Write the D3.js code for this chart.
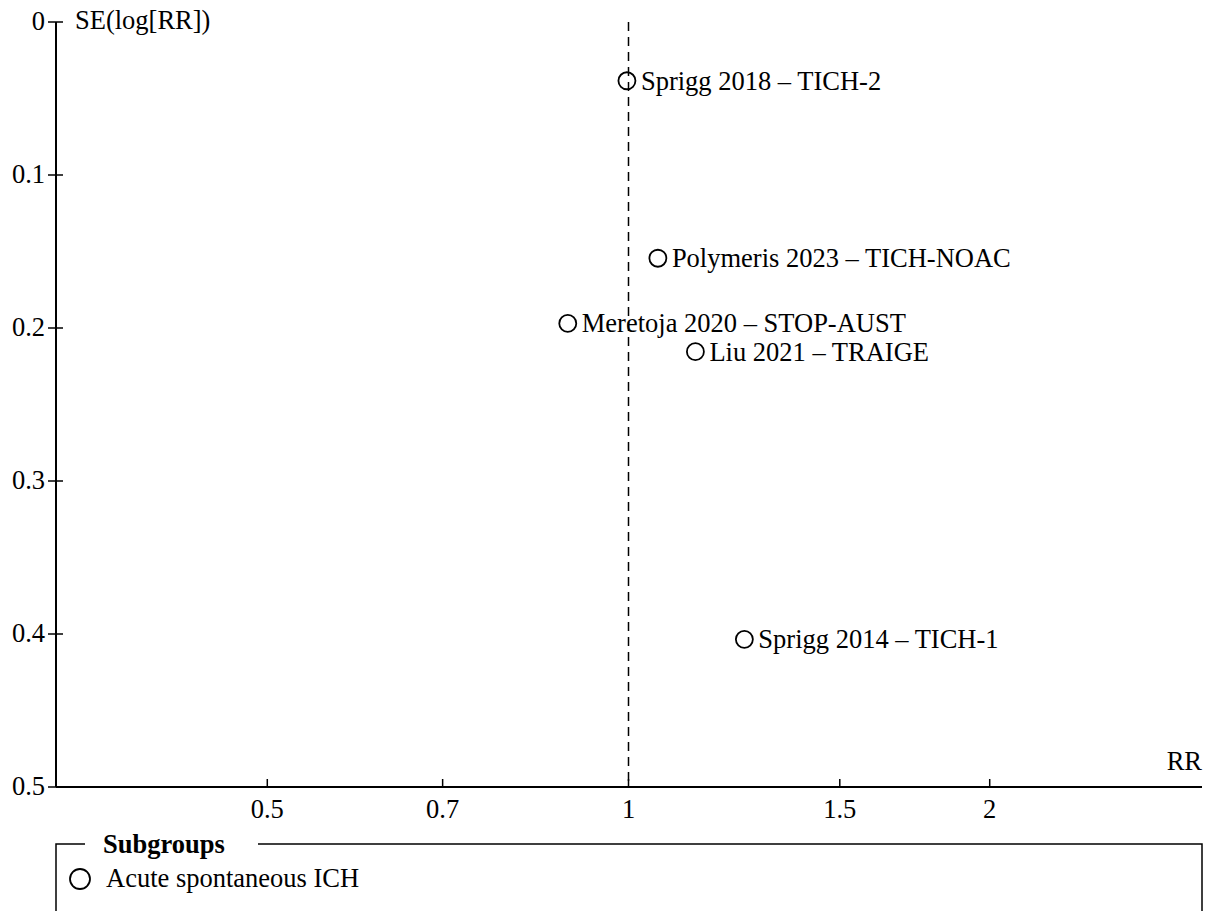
<!DOCTYPE html>
<html>
<head>
<meta charset="utf-8">
<script src="https://cdn.jsdelivr.net/npm/d3@7"></script>
<style>
  body { margin: 0; background: #fff; }
  svg text { font-family: "Liberation Serif", "Times New Roman", serif; fill: #000; }
</style>
</head>
<body>
<div class="funnel"></div>
<script>
const width = 1208, height = 911;

// study data
const studies = ["Sprigg 2018 – TICH-2", "Polymeris 2023 – TICH-NOAC", "Meretoja 2020 – STOP-AUST",
                 "Liu 2021 – TRAIGE", "Sprigg 2014 – TICH-1"];
const rr = [0.997, 1.058, 0.890, 1.137, 1.249];
const se = [0.0384, 0.1544, 0.197, 0.2155, 0.4035];

const xTicks = [0.5, 0.7, 1, 1.5, 2];
const yTicks = [0, 0.1, 0.2, 0.3, 0.4, 0.5];
const subgroups = ["Acute spontaneous ICH"];

const fs = 26.5;

const svg = d3.select(".funnel")
    .append("svg")
    .attr("width", width)
    .attr("height", height);

const x = d3.scaleLog()
    .domain([1 / 3, 3])
    .range([56, 1201]);

const y = d3.scaleLinear()
    .domain([0, 0.5])
    .range([22, 787]);

// y axis
svg.append("line")
    .attr("x1", 56).attr("x2", 56)
    .attr("y1", y(0)).attr("y2", y(0.5))
    .attr("stroke", "#000").attr("stroke-width", 2);

const yt = svg.selectAll(".ytick").data(yTicks).enter().append("g")
    .attr("transform", d => `translate(0, ${y(d)})`);
yt.append("line")
    .attr("x1", 48).attr("x2", d => d === 0.5 ? 56 : 63)
    .attr("stroke", "#000").attr("stroke-width", 1.5);
yt.append("text")
    .attr("x", 45).attr("y", 8)
    .attr("text-anchor", "end")
    .attr("font-size", fs)
    .text(d => d3.format("")(d));

svg.append("text")
    .attr("x", 75).attr("y", 29)
    .attr("font-size", fs)
    .text("SE(log[RR])");

// x axis
svg.append("line")
    .attr("x1", 56).attr("x2", 1202)
    .attr("y1", y(0.5)).attr("y2", y(0.5))
    .attr("stroke", "#000").attr("stroke-width", 2);

const xt = svg.selectAll(".xtick").data(xTicks).enter().append("g")
    .attr("transform", d => `translate(${x(d)}, ${y(0.5)})`);
xt.append("line")
    .attr("y1", -8).attr("y2", 0)
    .attr("stroke", "#000").attr("stroke-width", 1.5);
xt.append("text")
    .attr("y", 31)
    .attr("text-anchor", "middle")
    .attr("font-size", fs)
    .text(d => d);

svg.append("text")
    .attr("x", 1202).attr("y", 770)
    .attr("text-anchor", "end")
    .attr("font-size", fs)
    .text("RR");

// null line at RR = 1
svg.append("line")
    .attr("x1", x(1)).attr("x2", x(1))
    .attr("y1", y(0)).attr("y2", y(0.5))
    .attr("stroke", "#000").attr("stroke-width", 1.5)
    .attr("stroke-dasharray", "9,6");

// points
const pts = svg.selectAll(".pt").data(studies).enter().append("g")
    .attr("transform", (d, i) => `translate(${x(rr[i])}, ${y(se[i])})`);
pts.append("circle")
    .attr("r", 8.5)
    .attr("fill", "none")
    .attr("stroke", "#000").attr("stroke-width", 1.8);
pts.append("text")
    .attr("x", 14).attr("y", 9)
    .attr("font-size", fs)
    .text(d => d);

// legend box
const lg = svg.append("g");
lg.append("path")
    .attr("d", "M85,844 H56 V911 M258,844 H1202 V911")
    .attr("fill", "none")
    .attr("stroke", "#000").attr("stroke-width", 1.5);
lg.append("text")
    .attr("x", 103).attr("y", 853)
    .attr("font-size", fs).attr("font-weight", "bold")
    .text("Subgroups");
lg.selectAll(".item").data(subgroups).enter().append("circle")
    .attr("cx", 80).attr("cy", (d, i) => 879 + i * 30)
    .attr("r", 10)
    .attr("fill", "none")
    .attr("stroke", "#000").attr("stroke-width", 1.8);
lg.selectAll(".itemtxt").data(subgroups).enter().append("text")
    .attr("x", 106).attr("y", (d, i) => 887 + i * 30)
    .attr("font-size", fs)
    .text(d => d);
</script>
</body>
</html>
